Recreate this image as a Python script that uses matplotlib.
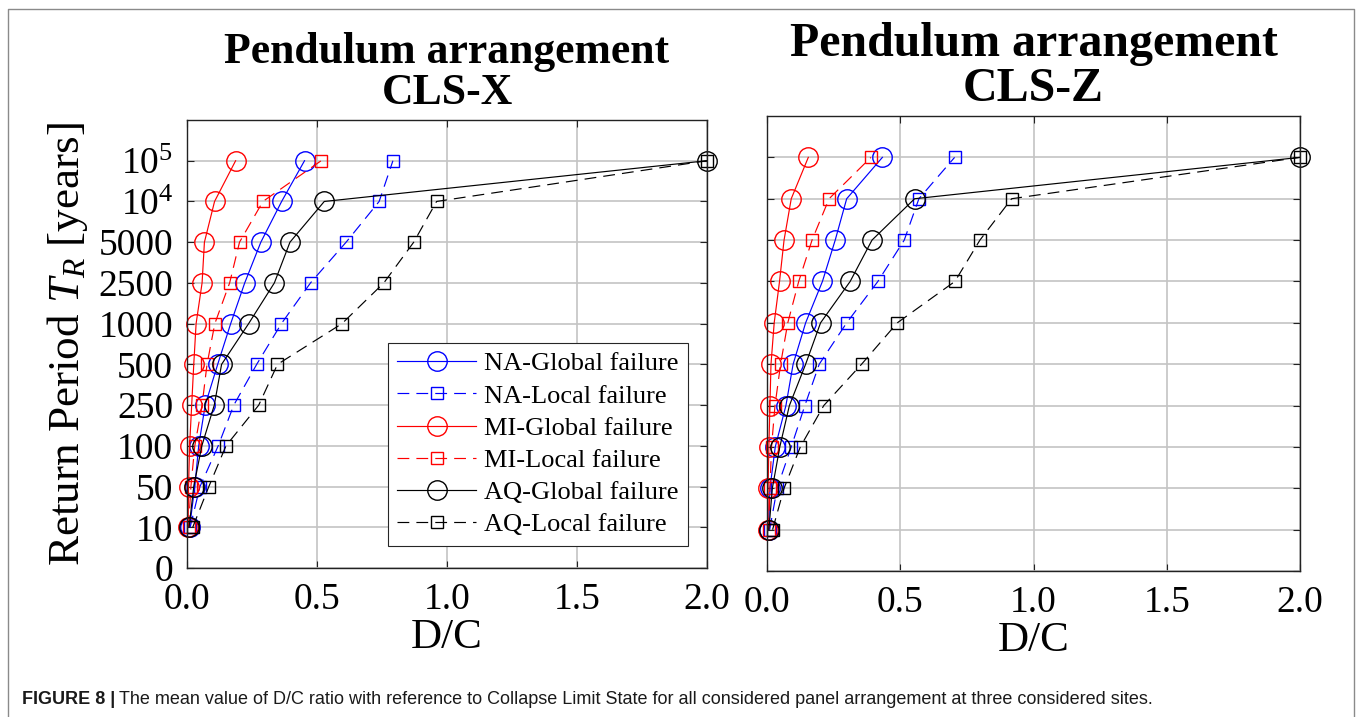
import numpy as np
import matplotlib
matplotlib.use('Agg')
import matplotlib.pyplot as plt
from matplotlib.lines import Line2D

plt.rcParams['font.family'] = ['Liberation Serif', 'DejaVu Serif']
plt.rcParams['mathtext.fontset'] = 'custom'
plt.rcParams['mathtext.rm'] = 'Liberation Serif'
plt.rcParams['mathtext.it'] = 'Liberation Serif:italic'
plt.rcParams['mathtext.bf'] = 'Liberation Serif:bold'

# return periods (plotted at equally spaced levels 1..10)
return_periods = [10, 50, 100, 250, 500, 1000, 2500, 5000, 10000, 100000]
ytick_labels = ['0', '10', '50', '100', '250', '500', '1000', '2500', '5000',
                '$10^4$', '$10^5$']
xtick_values = [0.0, 0.5, 1.0, 1.5, 2.0]
xtick_labels = ['0.0', '0.5', '1.0', '1.5', '2.0']

# mean D/C, CLS-X
x_na_global = [0.010, 0.030, 0.045, 0.070, 0.118, 0.168, 0.222, 0.284, 0.364, 0.452]
x_na_local = [0.012, 0.050, 0.120, 0.180, 0.268, 0.363, 0.475, 0.612, 0.739, 0.792]
x_mi_global = [0.004, 0.006, 0.010, 0.018, 0.026, 0.035, 0.058, 0.067, 0.106, 0.187]
x_mi_local = [0.006, 0.015, 0.030, 0.058, 0.077, 0.107, 0.164, 0.202, 0.292, 0.516]
x_aq_global = [0.008, 0.026, 0.057, 0.105, 0.133, 0.237, 0.336, 0.396, 0.528, 2.0]
x_aq_local = [0.022, 0.084, 0.150, 0.276, 0.348, 0.596, 0.757, 0.872, 0.960, 2.0]

# mean D/C, CLS-Z
z_na_global = [0.006, 0.011, 0.031, 0.071, 0.098, 0.145, 0.208, 0.256, 0.299, 0.433]
z_na_local = [0.010, 0.038, 0.091, 0.142, 0.196, 0.299, 0.416, 0.515, 0.570, 0.704]
z_mi_global = [0.004, 0.004, 0.007, 0.011, 0.015, 0.027, 0.047, 0.064, 0.091, 0.155]
z_mi_local = [0.006, 0.011, 0.017, 0.030, 0.051, 0.078, 0.119, 0.169, 0.233, 0.390]
z_aq_global = [0.007, 0.020, 0.048, 0.084, 0.145, 0.201, 0.312, 0.394, 0.554, 2.0]
z_aq_local = [0.021, 0.064, 0.125, 0.213, 0.355, 0.489, 0.705, 0.799, 0.918, 2.0]

labels = ['NA-Global failure', 'NA-Local failure', 'MI-Global failure',
          'MI-Local failure', 'AQ-Global failure', 'AQ-Local failure']
colors = ['#0000ff', '#0000ff', '#ff0000', '#ff0000', '#000000', '#000000']
markers = ['o', 's', 'o', 's', 'o', 's']
dashed = (0, (10, 6))
styles = ['-', dashed, '-', dashed, '-', dashed]

levels = np.arange(1, len(return_periods) + 1)

fig = plt.figure(figsize=(13.62, 7.17), dpi=100)
ax1 = fig.add_axes([187 / 1362, 1 - 568 / 717, 520 / 1362, 448 / 717])
ax2 = fig.add_axes([767 / 1362, 1 - 571 / 717, 533 / 1362, 455 / 717])

panels = [
    (ax1, [x_na_global, x_na_local, x_mi_global, x_mi_local, x_aq_global, x_aq_local],
     'Pendulum arrangement\nCLS-X', 31.5, 11.5),
    (ax2, [z_na_global, z_na_local, z_mi_global, z_mi_local, z_aq_global, z_aq_local],
     'Pendulum arrangement\nCLS-Z', 34.5, 11),
]

for ax, series, title, tsize, tpad in panels:
    for vals, lab, c, m, ls in zip(series, labels, colors, markers, styles):
        ms = 14 if m == 'o' else 9
        ax.plot(vals, levels, color=c, linestyle=ls, linewidth=0.85,
                marker=m, markersize=ms, markerfacecolor='none',
                markeredgecolor=c, markeredgewidth=1.0, label=lab, clip_on=False)
    ax.set_xlim(0, 2)
    ax.set_ylim(0, 11)
    ax.set_xticks(xtick_values)
    ax.set_xticklabels(xtick_labels)
    ax.set_yticks(range(len(ytick_labels)))
    ax.grid(True, color='#c4c4c4', linewidth=1.2)
    ax.set_axisbelow(True)
    ax.tick_params(direction='in', length=5, width=0.8, top=True, right=True,
                   labelsize=27, color='#222222')
    ax.tick_params(axis='x', pad=10.5)
    ax.tick_params(axis='y', pad=10)
    for sp in ax.spines.values():
        sp.set_linewidth(1.0)
        sp.set_color('#222222')
    ax.set_xlabel('D/C', fontsize=31, labelpad=1)
    ax.set_title(title, fontsize=tsize, fontweight='bold', linespacing=1.02, pad=tpad)

ax1.set_yticklabels(ytick_labels)
ax2.set_yticklabels([])
ax1.set_ylabel('Return Period $T_R$ [years]', fontsize=32.5, labelpad=6)

leg = ax1.legend(loc='lower right', bbox_to_anchor=(0.963, 0.05), borderaxespad=0,
                 fontsize=19, handlelength=3.0, handletextpad=0.3,
                 labelspacing=0.33, borderpad=0.35, fancybox=False, framealpha=1)
leg.get_frame().set_edgecolor('#262626')
leg.get_frame().set_linewidth(0.8)

# outer panel frame
fx0, fx1, fy1 = 8 / 1362, 1354 / 1362, 1 - 9 / 717
fig.add_artist(Line2D([fx0, fx0, fx1, fx1], [0, fy1, fy1, 0],
                      transform=fig.transFigure, color='#8a8a8a', linewidth=1.0))

# caption
cap1 = fig.text(22 / 1362, 1 - 700 / 717, 'FIGURE 8 |', family='Liberation Sans',
                fontweight='bold', fontsize=13, va='center', color='#1a1a1a')
renderer = fig.canvas.get_renderer()
bb = cap1.get_window_extent(renderer)
fig.text(bb.x1 / 1362 + 4 / 1362, 1 - 700 / 717,
         'The mean value of D/C ratio with reference to Collapse Limit State for all '
         'considered panel arrangement at three considered sites.',
         family='Liberation Sans', fontsize=13, va='center', color='#1a1a1a')

fig.savefig('out.png', dpi=100)
